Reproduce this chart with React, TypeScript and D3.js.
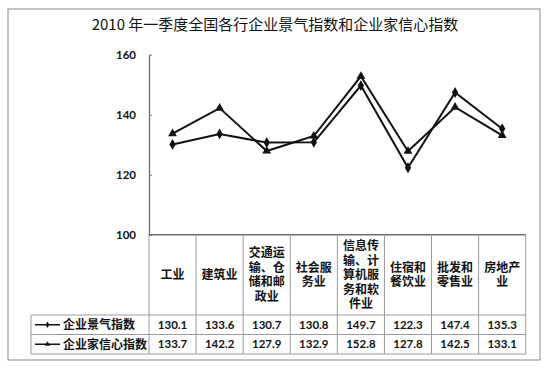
import React, { useEffect, useRef } from "react";
import * as d3 from "d3";

const title = "2010 年一季度全国各行企业景气指数和企业家信心指数";

const categories = [
  ["工业"],
  ["建筑业"],
  ["交通运", "输、仓", "储和邮", "政业"],
  ["社会服", "务业"],
  ["信息传", "输、计", "算机服", "务和软", "件业"],
  ["住宿和", "餐饮业"],
  ["批发和", "零售业"],
  ["房地产", "业"],
];

const climateName = "企业景气指数";
const climateValues = [130.1, 133.6, 130.7, 130.8, 149.7, 122.3, 147.4, 135.3];

const confidenceName = "企业家信心指数";
const confidenceValues = [133.7, 142.2, 127.9, 132.9, 152.8, 127.8, 142.5, 133.1];

const yTicks = [100, 120, 140, 160];

const W = 550;
const H = 372;
const plotLeft = 149;
const plotRight = 525.7;
const plotTop = 54.7;
const plotBottom = 234.7;
const row1Top = 315;
const row2Top = 334.5;
const tableBottom = 354;
const tableLeft = 31;

const cjk = "'Noto Sans CJK SC', sans-serif";
const num = "Lato, 'Liberation Sans', sans-serif";

export default function App() {
  const axisRef = useRef<SVGGElement>(null);

  const keys = categories.map((c, i) => String(i));
  const x = d3.scaleBand().domain(keys).range([plotLeft, plotRight]);
  const y = d3.scaleLinear().domain([100, 160]).range([plotBottom, plotTop]);
  const cx = (i: number) => (x(String(i)) as number) + x.bandwidth() / 2;

  const line = d3
    .line<number>()
    .x((d, i) => cx(i))
    .y((d) => y(d));

  const diamond = d3.symbol().type(d3.symbolDiamond).size(34)()!;
  const triangle = d3.symbol().type(d3.symbolTriangle).size(34)()!;

  useEffect(() => {
    const g = d3.select(axisRef.current);
    g.selectAll("*").remove();
    g.call(
      d3
        .axisLeft(y)
        .tickValues(yTicks)
        .tickSizeInner(-3)
        .tickSizeOuter(0)
        .tickPadding(13)
        .tickFormat(d3.format("d"))
    );
    g.select(".domain").attr("stroke", "#6f6f6f").attr("stroke-width", 1.3);
    g.selectAll(".tick line").attr("stroke", "#6f6f6f");
    g.selectAll(".tick text")
      .attr("fill", "#111")
      .style("font-family", num)
      .style("font-weight", "bold")
      .style("font-size", "11.5px");
  }, []);

  const bounds = [0, ...keys.map((k) => (x(k) as number) + x.bandwidth())];
  const colX = keys.map((k) => x(k) as number);

  return (
    <svg
      width={W}
      height={H}
      style={{ position: "absolute", left: 0, top: 0, background: "#fff" }}
    >
      <rect x={8} y={9} width={532} height={351} fill="#fff" stroke="#8a8a8a" strokeWidth={1} />
      <text
        x={275}
        y={30}
        textAnchor="middle"
        style={{ fontFamily: cjk, fontSize: "15px" }}
        fill="#111"
      >
        {title}
      </text>

      {/* table grid */}
      <g stroke="#9a9a9a" strokeWidth={1} fill="none">
        <line x1={plotLeft} x2={plotRight} y1={plotBottom} y2={plotBottom} stroke="#6f6f6f" strokeWidth={1.5} />
        {colX.slice(1).map((cx0, i) => (
          <line key={i} x1={cx0} x2={cx0} y1={plotBottom} y2={tableBottom} />
        ))}
        <line x1={plotRight} x2={plotRight} y1={plotBottom} y2={tableBottom} />
        <line x1={plotLeft} x2={plotLeft} y1={plotBottom} y2={tableBottom} />
        <line x1={tableLeft} x2={plotRight} y1={row1Top} y2={row1Top} />
        <line x1={tableLeft} x2={plotRight} y1={row2Top} y2={row2Top} />
        <line x1={tableLeft} x2={plotRight} y1={tableBottom} y2={tableBottom} />
        <line x1={tableLeft} x2={tableLeft} y1={row1Top} y2={tableBottom} />
      </g>

      {/* category labels */}
      {categories.map((lines, i) => {
        const lh = 14.5;
        const mid = (plotBottom + row1Top) / 2;
        const start = mid - ((lines.length - 1) * lh) / 2;
        return (
          <text
            key={i}
            textAnchor="middle"
            style={{ fontFamily: cjk, fontSize: "12px", fontWeight: "bold" }}
            fill="#111"
          >
            {lines.map((l, j) => (
              <tspan key={j} x={cx(i)} y={start + j * lh} dy="0.36em">
                {l}
              </tspan>
            ))}
          </text>
        );
      })}

      {/* y axis */}
      <g ref={axisRef} transform={`translate(${plotLeft},0)`} />

      {/* series */}
      <path d={line(confidenceValues) || ""} fill="none" stroke="#111" strokeWidth={2} />
      <path d={line(climateValues) || ""} fill="none" stroke="#111" strokeWidth={2} />
      {confidenceValues.map((v, i) => (
        <path key={"t" + i} d={triangle} transform={`translate(${cx(i)},${y(v)})`} fill="#111" />
      ))}
      {climateValues.map((v, i) => (
        <path key={"d" + i} d={diamond} transform={`translate(${cx(i)},${y(v)})`} fill="#111" />
      ))}

      {/* data rows */}
      {[
        { name: climateName, values: climateValues, sym: diamond, top: row1Top, bottom: row2Top },
        { name: confidenceName, values: confidenceValues, sym: triangle, top: row2Top, bottom: tableBottom },
      ].map((row, r) => {
        const my = (row.top + row.bottom) / 2;
        return (
          <g key={r}>
            <line x1={35} x2={60} y1={my} y2={my} stroke="#111" strokeWidth={1.5} />
            <path d={row.sym} transform={`translate(47.5,${my}) scale(0.6)`} fill="#111" />
            <text
              x={63}
              y={my}
              dy="0.36em"
              style={{ fontFamily: cjk, fontSize: "12px", fontWeight: "bold" }}
              fill="#111"
            >
              {row.name}
            </text>
            {row.values.map((v, i) => (
              <text
                key={i}
                x={cx(i)}
                y={my}
                dy="0.36em"
                textAnchor="middle"
                style={{ fontFamily: num, fontSize: "11.5px", fontWeight: "bold" }}
                fill="#111"
              >
                {v.toFixed(1)}
              </text>
            ))}
          </g>
        );
      })}
    </svg>
  );
}
